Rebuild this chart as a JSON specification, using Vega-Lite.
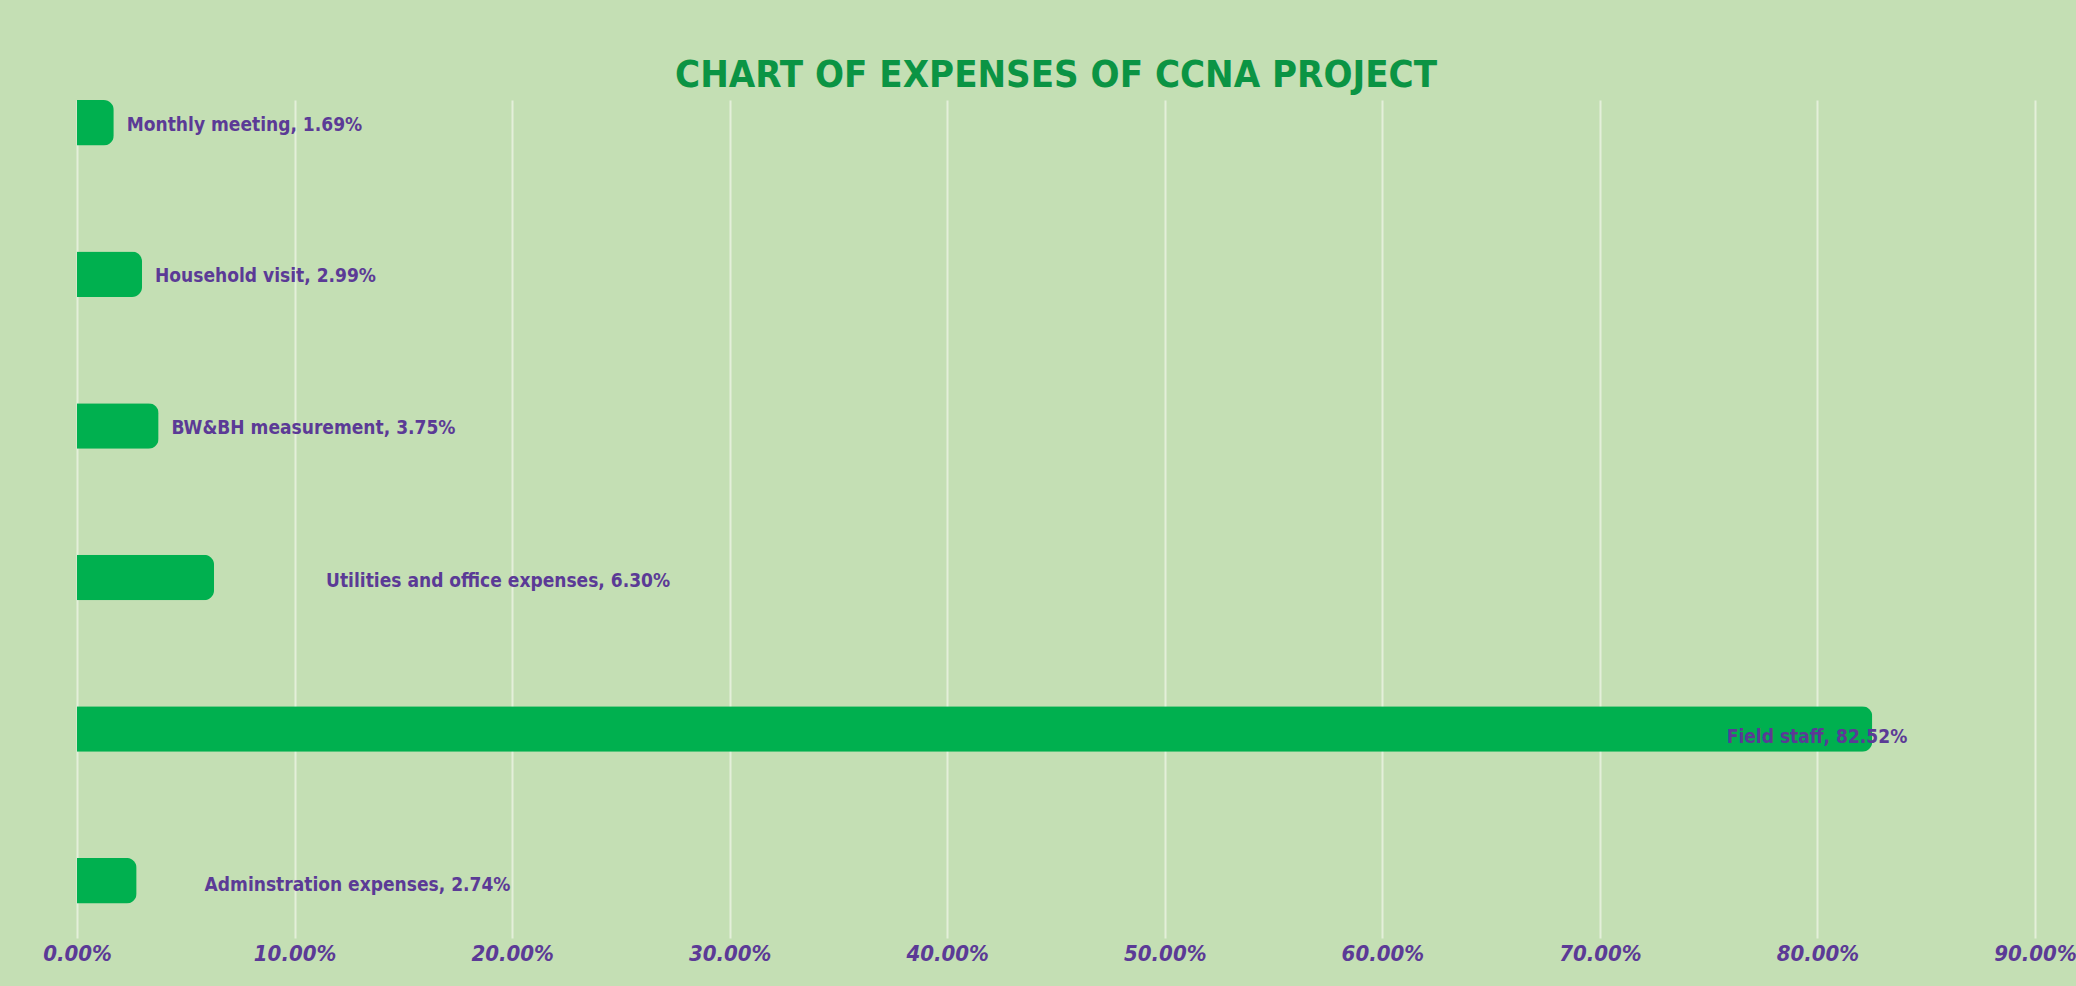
{
  "$schema": "https://vega.github.io/schema/vega-lite/v6.json",
  "autosize": "none",
  "width": 1958,
  "height": 838,
  "padding": {"left": 77, "top": 100, "right": 41, "bottom": 48},
  "background": "#C4DFB4",
  "title": {
    "text": "CHART OF EXPENSES OF CCNA PROJECT",
    "font": "DejaVu Sans Condensed, Roboto, sans-serif",
    "fontSize": 38,
    "fontWeight": "bold",
    "color": "#0B9444",
    "anchor": "middle",
    "offset": 5
  },
  "config": {"view": {"stroke": null}},
  "data": {
    "values": [
      {"item": "Monthly meeting", "pct": 0.0169, "grp": "near"},
      {"item": "Household visit", "pct": 0.0299, "grp": "near"},
      {"item": "BW&BH measurement", "pct": 0.0375, "grp": "near"},
      {"item": "Utilities and office expenses", "pct": 0.063, "grp": "far"},
      {"item": "Field staff", "pct": 0.8252, "grp": "inside"},
      {"item": "Adminstration expenses", "pct": 0.0274, "grp": "mid"}
    ]
  },
  "transform": [
    {"calculate": "datum.item + ', ' + format(datum.pct, '.2%')", "as": "label"}
  ],
  "encoding": {
    "y": {
      "field": "item",
      "type": "nominal",
      "sort": null,
      "axis": null,
      "scale": {"paddingInner": 0.7, "paddingOuter": 0.114, "align": 0}
    },
    "x": {
      "field": "pct",
      "type": "quantitative",
      "scale": {"domain": [0, 0.9], "nice": false},
      "axis": {
        "title": null,
        "format": ".2%",
        "values": [0, 0.1, 0.2, 0.3, 0.4, 0.5, 0.6, 0.7, 0.8, 0.9],
        "grid": true,
        "gridColor": "#E4EFDA",
        "gridWidth": 2,
        "domain": false,
        "ticks": false,
        "labelFont": "DejaVu Sans Condensed, Roboto, sans-serif",
        "labelFontSize": 22,
        "labelFontStyle": "italic",
        "labelFontWeight": "bold",
        "labelColor": "#5B3A96",
        "labelPadding": 5,
        "labelFlush": false,
        "labelBaseline": "top"
      }
    }
  },
  "layer": [
    {
      "mark": {"type": "bar", "color": "#00B04F", "cornerRadiusEnd": 10}
    },
    {
      "transform": [{"filter": "datum.grp == 'near'"}],
      "mark": {"type": "text", "align": "left", "baseline": "middle", "dx": 13, "dy": 2, "font": "DejaVu Sans Condensed, Roboto, sans-serif", "fontSize": 19, "fontWeight": "bold", "color": "#5B3A96"},
      "encoding": {"text": {"field": "label"}}
    },
    {
      "transform": [{"filter": "datum.grp == 'far'"}],
      "mark": {"type": "text", "align": "left", "baseline": "middle", "dx": 112, "dy": 3, "font": "DejaVu Sans Condensed, Roboto, sans-serif", "fontSize": 19, "fontWeight": "bold", "color": "#5B3A96"},
      "encoding": {"text": {"field": "label"}}
    },
    {
      "transform": [{"filter": "datum.grp == 'mid'"}],
      "mark": {"type": "text", "align": "left", "baseline": "middle", "dx": 68, "dy": 4, "font": "DejaVu Sans Condensed, Roboto, sans-serif", "fontSize": 19, "fontWeight": "bold", "color": "#5B3A96"},
      "encoding": {"text": {"field": "label"}}
    },
    {
      "transform": [{"filter": "datum.grp == 'inside'"}],
      "mark": {"type": "text", "align": "right", "baseline": "middle", "dx": 35, "dy": 8, "font": "DejaVu Sans Condensed, Roboto, sans-serif", "fontSize": 19, "fontWeight": "bold", "color": "#5B3A96"},
      "encoding": {"text": {"field": "label"}}
    }
  ]
}
